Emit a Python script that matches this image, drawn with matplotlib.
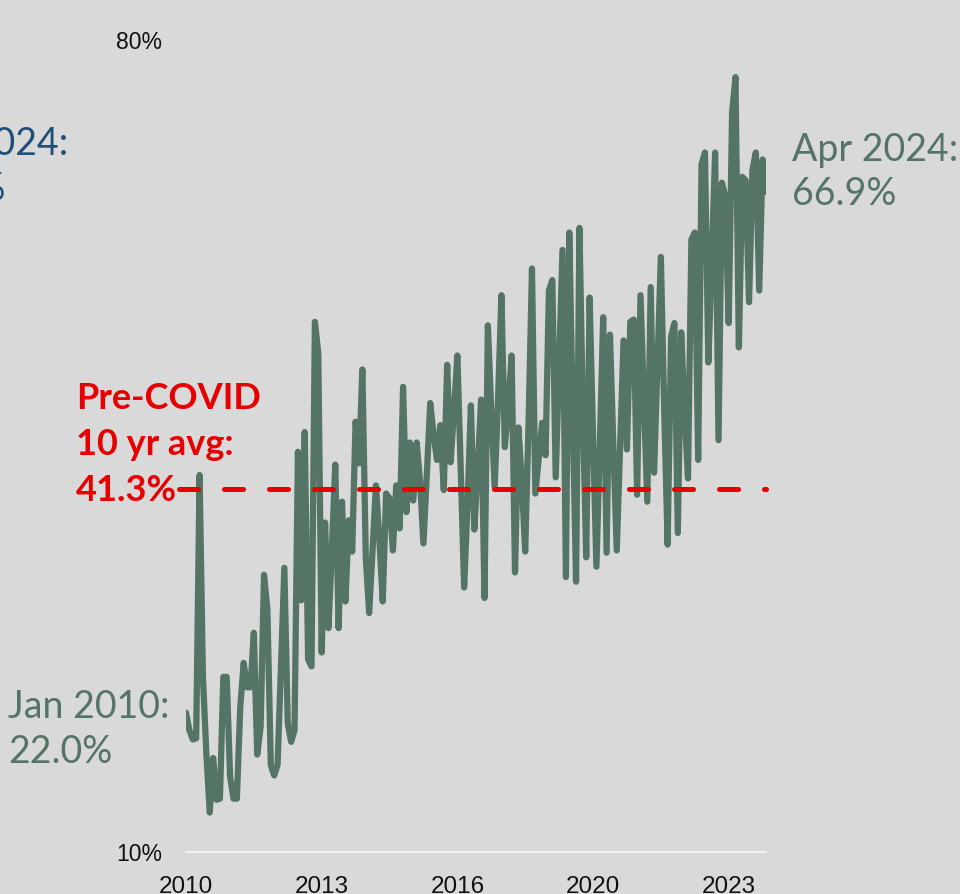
import matplotlib.pyplot as plt
import numpy as np
import pandas as pd

# monthly share, Jan 2010 .. Apr 2024 (%)
values = [
    22.0, 20.5, 19.7, 19.8, 42.5, 25.0, 18.5, 13.4, 18.1, 14.5, 14.6, 25.1,
    25.1, 16.5, 14.6, 14.6, 22.5, 26.3, 24.2, 24.2, 28.9, 18.4, 20.8, 33.9,
    30.9, 17.5, 16.6, 17.5, 26.0, 34.5, 21.1, 19.5, 20.5, 44.5, 31.7, 46.2,
    26.6, 26.0, 55.7, 53.0, 27.2, 38.4, 29.3, 36.0, 43.4, 29.3, 40.2, 31.6,
    38.6, 35.9, 47.1, 43.5, 51.6, 35.4, 30.6, 36.0, 41.6, 37.0, 31.6, 40.9,
    40.5, 36.0, 41.6, 37.9, 50.1, 39.3, 45.3, 40.3, 45.3, 42.0, 36.6, 42.5,
    48.7, 46.0, 43.8, 46.8, 41.2, 52.0, 43.6, 48.0, 52.8, 43.0, 32.8, 40.0,
    48.5, 37.8, 43.0, 49.0, 31.9, 55.4, 48.0, 41.5, 49.0, 58.0, 44.9, 48.5,
    52.8, 34.1, 46.6, 42.0, 35.9, 47.0, 60.3, 40.9, 44.0, 47.0, 44.2, 58.4,
    59.3, 42.3, 52.0, 61.9, 33.7, 63.4, 48.0, 33.3, 63.8, 47.8, 35.4, 57.8,
    46.0, 34.6, 45.0, 56.1, 35.8, 54.6, 45.0, 36.0, 45.0, 54.1, 44.7, 55.7,
    55.9, 40.8, 58.0, 49.0, 40.2, 58.7, 42.7, 52.0, 61.3, 48.0, 36.5, 54.4,
    55.6, 37.5, 54.8, 48.0, 42.2, 62.8, 63.4, 43.8, 69.3, 70.3, 52.2, 61.0,
    70.3, 45.5, 67.7, 66.5, 55.6, 73.7, 76.8, 53.5, 68.2, 67.9, 57.4, 68.8,
    70.3, 58.4, 69.7, 66.9,
]
dates = pd.date_range('2010-01-01', periods=len(values), freq='MS')
pre_covid_avg = 41.3
tick_idx = [0, 40, 80, 120, 160]
y_ticks = [10, 80]

bg = '#d9d9d9'
green = '#547565'
red = '#e60000'
blue = '#1f4e79'

W, H = 960, 894
fig = plt.figure(figsize=(W / 100, H / 100), dpi=100, facecolor=bg)
ax = fig.add_axes([186 / W, 1 - 852 / H, 580 / W, 812 / H])
ax.set_facecolor(bg)

x = np.arange(len(values))
ax.plot(x, values, color=green, lw=4.5, solid_joinstyle='round',
        solid_capstyle='round', zorder=3)
ax.plot([-2, len(values) - 1], [pre_covid_avg, pre_covid_avg], color=red,
        lw=3.6, dashes=(3.8, 5.2), dash_capstyle='round', clip_on=False,
        zorder=4)

ax.set_xlim(0, len(values) - 1)
ax.set_ylim(10, 80)
for s in ['top', 'right', 'left']:
    ax.spines[s].set_visible(False)
ax.spines['bottom'].set_color('#f0f0f0')
ax.spines['bottom'].set_linewidth(1.5)

ax.set_xticks(tick_idx)
ax.set_xticklabels([str(dates[i].year) for i in tick_idx])
ax.set_yticks(y_ticks)
ax.set_yticklabels([f'{v}%' for v in y_ticks])
ax.tick_params(axis='x', length=0, pad=17, labelsize=17.5)
ax.tick_params(axis='y', length=0, pad=17, labelsize=16.5)
for lab in ax.get_xticklabels() + ax.get_yticklabels():
    lab.set_fontfamily('Liberation Sans')
    lab.set_color('#111111')


def label(px, py, s, color, size=27, weight='normal'):
    fig.text(px / W, 1 - py / H, s, color=color, fontsize=size,
             fontweight=weight, family='Lato', va='baseline', ha='left')


label(792, 161, 'Apr 2024:', green)
label(792, 205, f'{values[-1]}%', green)
label(8, 718, 'Jan 2010:', green)
label(8, 763, f'{values[0]}%', green)
label(76, 409, 'Pre-COVID', red, size=26, weight='bold')
label(76, 455, '10 yr avg:', red, size=26, weight='bold')
label(76, 501, f'{pre_covid_avg}%', red, size=26, weight='bold')
label(-98, 155, 'Apr 2024:', blue)
label(-98, 200, '48.2%', blue)

plt.savefig('out.png', dpi=100, facecolor=bg)
